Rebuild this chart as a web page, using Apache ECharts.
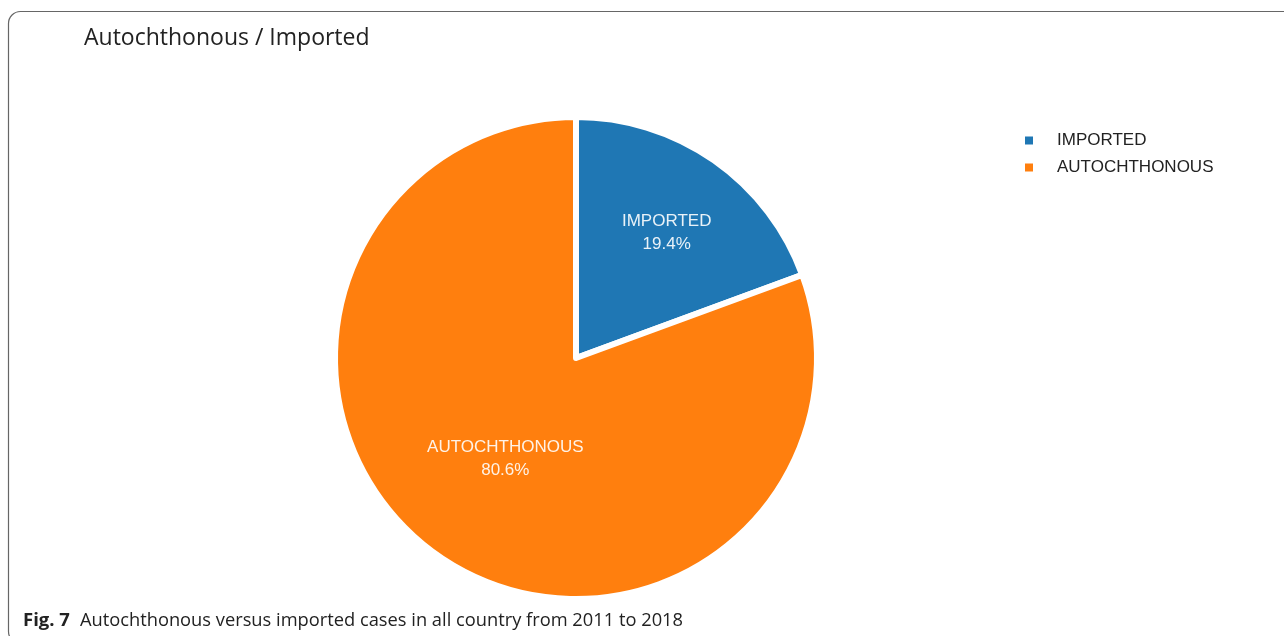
<!DOCTYPE html>
<html>
<head>
<meta charset="utf-8">
<script src="https://cdn.jsdelivr.net/npm/echarts@6/dist/echarts.min.js"></script>
<style>
html,body{margin:0;padding:0;background:#fff;}
#chart{width:1284px;height:636px;}
</style>
</head>
<body>
<div id="chart"></div>
<script>
var categories = ['IMPORTED', 'AUTOCHTHONOUS'];
var values = [19.4, 80.6];
var colors = ['#1f77b4', '#ff7f0e'];
var titleText = 'Autochthonous / Imported';
var captionLabel = 'Fig. 7';
var captionText = 'Autochthonous versus imported cases in all country from 2011 to 2018';

var labelOffsets = [[20, -24], [0, 0]];

var chart = echarts.init(document.getElementById('chart'), null, {renderer: 'canvas'});
var data = categories.map(function (c, i) {
  return {
    name: c,
    value: values[i],
    itemStyle: {color: colors[i]},
    label: {offset: labelOffsets[i]}
  };
});

chart.setOption({
  backgroundColor: '#fff',
  animation: false,
  title: [{
    text: titleText,
    left: 79,
    top: 22,
    textStyle: {fontFamily: 'Open Sans', fontSize: 23, fontWeight: 'normal', color: '#222'}
  }, {
    text: '{b|' + captionLabel + '}  {n|' + captionText + '}',
    left: 18,
    top: 606,
    textStyle: {
      rich: {
        b: {fontFamily: 'Open Sans', fontSize: 18.5, fontWeight: 'bold', color: '#222'},
        n: {fontFamily: 'Open Sans', fontSize: 18.3, fontWeight: 'normal', color: '#222'}
      }
    }
  }],
  legend: {
    orient: 'vertical',
    left: 1018,
    top: 127,
    itemWidth: 10,
    itemHeight: 10,
    itemGap: 10,
    icon: 'rect',
    textStyle: {fontFamily: 'Liberation Sans', fontSize: 17, color: '#222', padding: [0, 0, 0, 18]},
    data: categories
  },
  graphic: [{
    type: 'rect',
    shape: {x: 8.5, y: 11.5, width: 1300, height: 632, r: 12},
    style: {fill: 'none', stroke: '#666', lineWidth: 1.2},
    silent: true,
    z: -1
  }],
  series: [{
    type: 'pie',
    center: [576, 358],
    radius: [0, 241],
    startAngle: 90,
    clockwise: true,
    data: data,
    itemStyle: {borderColor: '#fff', borderWidth: 6},
    label: {
      show: true,
      position: 'inside',
      color: 'rgba(255,255,255,0.9)',
      fontFamily: 'Liberation Sans',
      fontSize: 17,
      lineHeight: 23,
      formatter: function (p) { return p.name + '\n' + p.value.toFixed(1) + '%'; }
    },
    labelLine: {show: false},
    emphasis: {disabled: true}
  }]
});
</script>
</body>
</html>
